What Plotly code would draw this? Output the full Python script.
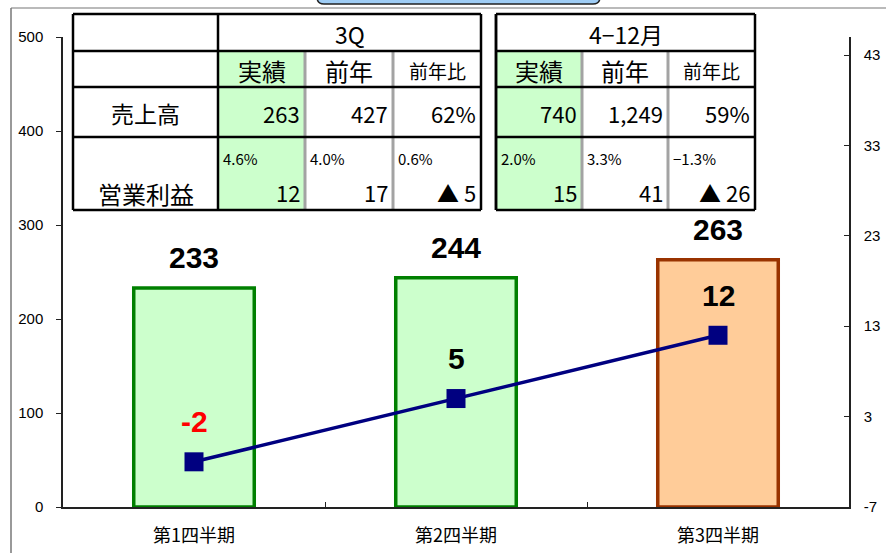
import plotly.graph_objects as go

# ---------------- data ----------------
quarters = ["第1四半期", "第2四半期", "第3四半期"]
sales = [233, 244, 263]
profit = [-2, 5, 12]
bar_fill = ["#ccffcc", "#ccffcc", "#ffcc99"]
bar_edge = ["#008000", "#008000", "#993300"]

table_titles = ["3Q", "4−12月"]
col_headers = ["実績", "前年", "前年比"]
row_labels = ["売上高", "営業利益"]
sales_3q = ["263", "427", "62%"]
margin_3q = ["4.6%", "4.0%", "0.6%"]
op_3q = ["12", "17", "▲ 5"]
sales_412 = ["740", "1,249", "59%"]
margin_412 = ["2.0%", "3.3%", "−1.3%"]
op_412 = ["15", "41", "▲ 26"]

left_ticks = [0, 100, 200, 300, 400, 500]
right_ticks = [-7, 3, 13, 23, 33, 43]
right_tick_text = ["-7", "3", "13", "23", "33", "43"]

# ---------------- geometry helpers (pixel -> paper) ----------------
W, H = 886, 553
L, R, T, B = 63, 849, 37, 507


def px(x):
    return (x - L) / (R - L)


def py(y):
    return (B - y) / (B - T)


JP = "Noto Sans CJK JP"
AR = "Liberation Sans"

fig = go.Figure()
fig.add_trace(go.Bar(
    x=quarters, y=sales, width=0.46,
    marker=dict(color=bar_fill, line=dict(color=bar_edge, width=3.5)),
    showlegend=False, hoverinfo="skip"))
fig.add_trace(go.Scatter(
    x=quarters, y=profit, yaxis="y2", mode="lines+markers",
    line=dict(color="#000080", width=3.5),
    marker=dict(symbol="square", size=19, color="#000080"),
    showlegend=False, hoverinfo="skip"))

ann = []
for q, s in zip(quarters, sales):
    ann.append(dict(x=q, y=s, xref="x", yref="y", text=str(s), showarrow=False,
                    yshift=30, font=dict(family=AR, size=30, color="black", weight="bold")))
for q, p in zip(quarters, profit):
    ann.append(dict(x=q, y=p, xref="x", yref="y2", text=str(p), showarrow=False,
                    yshift=40, font=dict(family=AR, size=30,
                                         color="#ff0000" if p < 0 else "black",
                                         weight="bold")))

shapes = []


def line(x0, y0, x1, y1, color="black", width=2.5, dash="solid"):
    shapes.append(dict(type="line", xref="paper", yref="paper",
                       x0=px(x0), y0=py(y0), x1=px(x1), y1=py(y1),
                       line=dict(color=color, width=width, dash=dash)))


def rect_fill(x0, y0, x1, y1, color):
    shapes.append(dict(type="rect", xref="paper", yref="paper",
                       x0=px(x0), y0=py(y0), x1=px(x1), y1=py(y1),
                       fillcolor=color, line=dict(width=0), layer="above"))


def txt(x, y, s, size, anchor="center", family=JP):
    ann.append(dict(x=px(x), y=py(y), xref="paper", yref="paper", text=s,
                    showarrow=False, xanchor=anchor, yanchor="middle",
                    font=dict(family=family, size=size, color="black")))


rows = [14, 51, 87, 137, 210]
tables = [
    dict(cols=[218, 305, 393, 481], left=73, title=table_titles[0],
         sales=sales_3q, margin=margin_3q, op=op_3q),
    dict(cols=[496, 582, 668, 755], left=None, title=table_titles[1],
         sales=sales_412, margin=margin_412, op=op_412),
]

for tb in tables:
    c = tb["cols"]
    x_left = tb["left"] if tb["left"] is not None else c[0]
    # green fill in 実績 column
    rect_fill(c[0], rows[1], c[1], rows[4], "#ccffcc")
    # gray column separators
    for xc in c[1:3]:
        line(xc, rows[1], xc, rows[4], color="#a3a3a3", width=3)
    # horizontal lines
    for yr in rows:
        line(x_left, yr, c[3], yr)
    # outer verticals
    line(x_left, rows[0], x_left, rows[4])
    line(c[0], rows[0], c[0], rows[4])
    line(c[3], rows[0], c[3], rows[4])
    # title
    txt((c[0] + c[3]) / 2, 34, tb["title"], 23)
    # column headers
    for i, h in enumerate(col_headers):
        txt((c[i] + c[i + 1]) / 2, 70, h, 24 if i < 2 else 19)
    for i in range(3):
        txt(c[i + 1] - 3, 113, tb["sales"][i], 22, anchor="right")
        txt(c[i] + 3, 158, tb["margin"][i], 15, anchor="left")
        txt(c[i + 1] - 3, 192, tb["op"][i], 22, anchor="right")

# row labels for first table
txt((73 + 218) / 2, 113, row_labels[0], 23)
txt((73 + 218) / 2, 193, row_labels[1], 24)

# slide frame and title box
shapes.append(dict(type="line", xref="paper", yref="paper",
                   x0=px(11), y0=py(8), x1=px(11), y1=py(560),
                   line=dict(color="#555555", width=1.2)))
shapes.append(dict(type="line", xref="paper", yref="paper",
                   x0=px(11), y0=py(8), x1=px(890), y1=py(8),
                   line=dict(color="#777777", width=1.2)))
bx0, bx1, by0, by1, r = px(317), px(600), py(-20), py(4), 7
shapes.append(dict(
    type="path", xref="paper", yref="paper",
    path=(f"M {bx0},{by0} L {bx0},{py(4 - r)} Q {bx0},{by1} {px(317 + r)},{by1} "
          f"L {px(600 - r)},{by1} Q {bx1},{by1} {bx1},{py(4 - r)} L {bx1},{by0} Z"),
    fillcolor="#9fcdf5", line=dict(color="#222222", width=1.5)))

fig.update_layout(
    width=W, height=H, autosize=False,
    margin=dict(l=L, r=W - R, t=T, b=H - B, pad=0, autoexpand=False),
    plot_bgcolor="white", paper_bgcolor="white",
    bargap=0.54,
    xaxis=dict(showline=True, linecolor="#222222", linewidth=1.5, automargin=False,
               ticks="inside", ticklen=5, tickcolor="#222222", tickson="boundaries",
               tickfont=dict(family=JP, size=18, color="black"),
               ticklabelstandoff=12, showgrid=False, zeroline=False),
    yaxis=dict(range=[0, 500], tickvals=left_ticks, showline=True, linecolor="#222222",
               linewidth=1.5, ticks="outside", ticklen=5, tickcolor="#222222",
               automargin=False,
               tickfont=dict(family=AR, size=15, color="black"), ticklabelstandoff=10,
               showgrid=False, zeroline=False),
    yaxis2=dict(range=[-7, 45], tickvals=right_ticks, ticktext=right_tick_text,
                overlaying="y", side="right",
                showline=True, linecolor="#222222", linewidth=1.5, ticks="inside",
                ticklen=5, tickcolor="#222222", automargin=False,
                tickfont=dict(family=AR, size=15, color="black"), ticklabelstandoff=10,
                showgrid=False, zeroline=False),
    annotations=ann, shapes=shapes,
)

fig.write_html("out.html", config={"displayModeBar": False},
               post_script="document.body.style.margin='0';document.body.style.overflow='hidden';")
